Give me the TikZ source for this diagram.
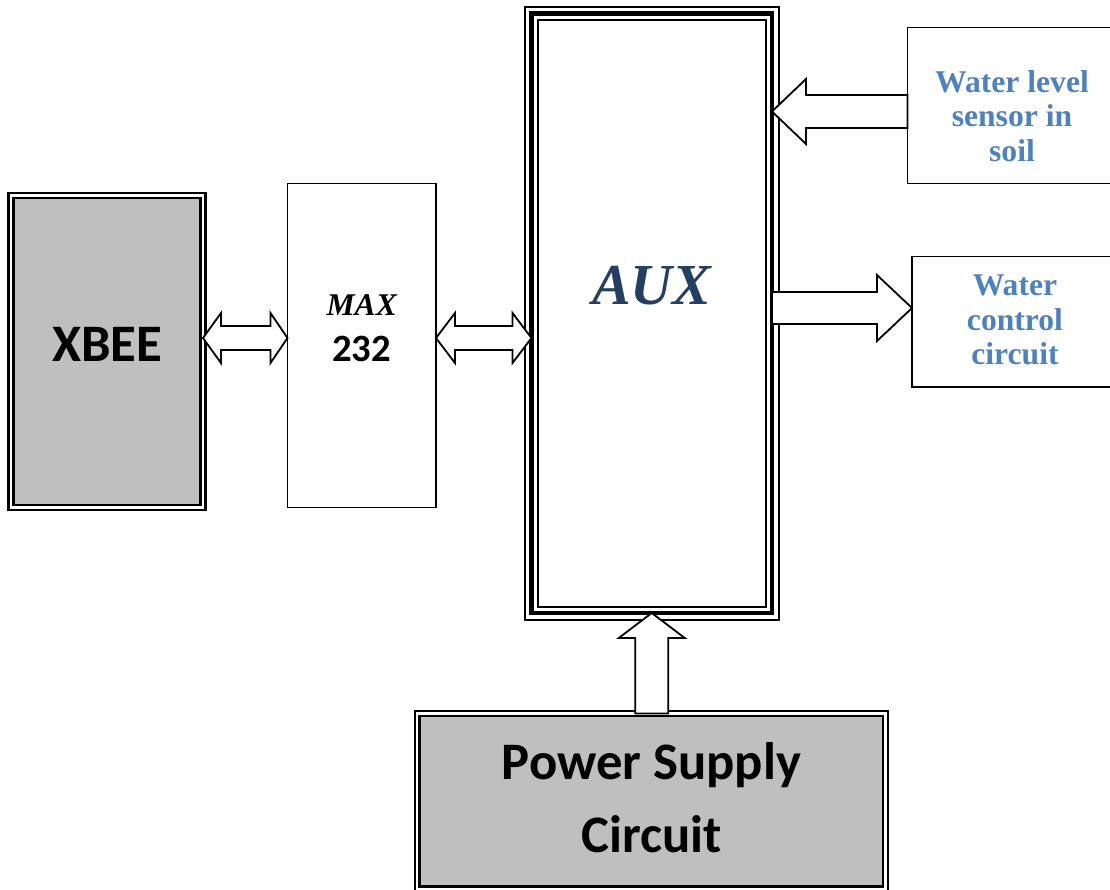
\documentclass[tikz,border=0pt]{standalone}
\usepackage{fontspec}
\setmainfont{Liberation Serif}
\newfontfamily\calibri{Carlito}
\usetikzlibrary{calc}

\definecolor{boxgrey}{HTML}{BFBFBF}
\definecolor{textblue}{HTML}{4F81BD}
\definecolor{auxblue}{HTML}{243F60}
\newlength{\pxw}\setlength{\pxw}{0.02cm}

\tikzset{
  plainbox/.style={draw, line width=1.5\pxw, inner sep=0pt, outer sep=0pt},
  greybox/.style={draw, double, fill=boxgrey, line width=2.5\pxw, double distance=2.3\pxw, inner sep=0pt, outer sep=0pt},
  ringbox/.style={draw, line width=4.5\pxw, preaction={draw, line width=15\pxw}, preaction={draw=white, line width=11\pxw}, inner sep=0pt, outer sep=0pt},
  blockarr/.style={draw, fill=white, line width=1.8\pxw},
  calfont/.style={font=\calibri\bfseries\fontsize{30}{41.4}\selectfont, align=center},
  bluetxt/.style={text=textblue, font=\bfseries\fontsize{18}{19.6}\selectfont, align=center},
  auxtxt/.style={text=auxblue, font=\bfseries\itshape\fontsize{33}{40}\selectfont},
  maxtxt/.style={font=\calibri\bfseries\fontsize{22}{26}\selectfont, align=center}
}

\begin{document}
\begin{tikzpicture}[x=0.02cm, y=-0.02cm]
    \clip (0,0) rectangle (1110,890);
    % blocks
    \node[greybox, minimum width=192\pxw, minimum height=312\pxw,
      label={[calfont, yshift=6.8\pxw]center:XBEE}] (xbee) at (107,351.5) {};
    \node[plainbox, minimum width=148.5\pxw, minimum height=324\pxw,
      label={[maxtxt, yshift=17\pxw]center:{{\rmfamily\itshape\fontsize{18}{26}\selectfont MAX}\\232}}] (max) at (361.75,345.5) {};
    \node[ringbox, minimum width=240.5\pxw, minimum height=599.5\pxw,
      label={[auxtxt, yshift=28\pxw]center:AUX}] (aux) at (651.75,313.25) {};
    \node[plainbox, minimum width=209\pxw, minimum height=155.8\pxw,
      label={[bluetxt, yshift=-10.6\pxw]center:{Water level\\sensor in\\soil}}] (sensor) at (1012,105.4) {};
    \node[plainbox, minimum width=206\pxw, minimum height=130.3\pxw,
      label={[bluetxt, yshift=1.6\pxw]center:{Water\\control\\circuit}}] (control) at (1015,321.65) {};
    \node[greybox, minimum width=468.3\pxw, minimum height=175.5\pxw,
      label={[calfont, yshift=3.75\pxw]center:{Power Supply\\Circuit}}] (power) at (651.4,801.25) {};
    % xbee <-> max
    \coordinate (xm1) at (xbee.east |- 0,338);
    \coordinate (xm2) at (max.west |- 0,338);
    \draw[blockarr] (xm1) -- ++(18,-25) -- ++(0,13) -- ($(xm2)+(-17,-12)$) -- ++(0,-13) -- (xm2)
      -- ++(-17,25) -- ++(0,-13) -- ($(xm1)+(18,12)$) -- ++(0,13) -- cycle;
    % max <-> aux
    \coordinate (ma1) at (max.east |- 0,338);
    \coordinate (ma2) at (aux.west |- 0,338);
    \draw[blockarr] (ma1) -- ++(19,-25) -- ++(0,13) -- ($(ma2)+(-19,-12)$) -- ++(0,-13) -- (ma2)
      -- ++(-19,25) -- ++(0,-13) -- ($(ma1)+(19,12)$) -- ++(0,13) -- cycle;
    % sensor -> aux
    \coordinate (sa1) at (sensor.west |- 0,111.5);
    \coordinate (sa2) at (aux.east |- 0,111.5);
    \draw[blockarr] (sa1) ++(0,-16.5) -- ($(sa2)+(34,-16.5)$) -- ++(0,-16) -- (sa2)
      -- ++(34,32.5) -- ++(0,-16) -- ($(sa1)+(0,16.5)$) -- cycle;
    % aux -> control
    \coordinate (ac1) at (aux.east |- 0,308);
    \coordinate (ac2) at (control.west |- 0,308);
    \draw[blockarr] (ac1) ++(0,-16) -- ($(ac2)+(-35,-16)$) -- ++(0,-17) -- (ac2)
      -- ++(-35,33) -- ++(0,-17) -- ($(ac1)+(0,16)$) -- cycle;
    % power -> aux
    \coordinate (pa1) at (aux.south |- power.north);
    \draw[blockarr] (aux.south) -- ++(33,25) -- ++(-16.5,0) -- ($(pa1)+(16.5,0)$) -- ++(-33,0)
      -- ($(aux.south)+(-16.5,25)$) -- ++(-16.5,0) -- cycle;
\end{tikzpicture}
\end{document}
